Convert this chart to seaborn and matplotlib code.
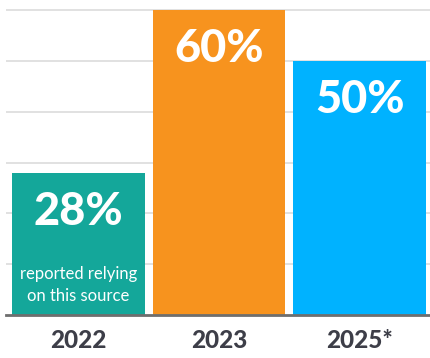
import matplotlib
matplotlib.use("Agg")
import matplotlib.pyplot as plt
import seaborn as sns
import pandas as pd

years = ["2022", "2023", "2025*"]
values = [28, 60, 50]
labels = ["28%", "60%", "50%"]
colors = ["#14A79A", "#F7931E", "#00B2FF"]
sublabel = "reported relying\non this source"

sns.set_theme(style="white")
plt.rcParams["font.family"] = ["Lato", "DejaVu Sans"]

df = pd.DataFrame({"year": years, "value": values})

fig = plt.figure(figsize=(4.3, 3.58), dpi=100)
ax = fig.add_axes([0.014, 0.120, 0.986, 0.866])

sns.barplot(data=df, x="year", y="value", hue="year", palette=colors,
            width=0.943, legend=False, ax=ax, saturation=1, zorder=3,
            linewidth=0, edgecolor="none")

ax.set_ylim(0, 61)
ax.set_xlim(-0.514, 2.5)
ax.set_yticks([10, 20, 30, 40, 50, 60])
ax.yaxis.grid(True, color="#dcdcdc", linewidth=1.2, zorder=0)
ax.set_axisbelow(True)
ax.tick_params(axis="y", length=0, labelleft=False)
ax.tick_params(axis="x", length=0, pad=10, labelsize=17.5, labelcolor="#3d3e48")
for t in ax.get_xticklabels():
    t.set_fontweight("black")
ax.set_xlabel("")
ax.set_ylabel("")
for s in ["top", "right", "left"]:
    ax.spines[s].set_visible(False)
ax.spines["bottom"].set_color("#6e6e6e")
ax.spines["bottom"].set_linewidth(2)
ax.spines["bottom"].set_zorder(5)

for i, (v, lab) in enumerate(zip(values, labels)):
    ax.annotate(lab, xy=(i, v), xytext=(0, -28), textcoords="offset points",
                ha="center", va="center", color="white", fontsize=32.5,
                fontweight="black", zorder=6)

ax.annotate(sublabel, xy=(0, 0), xytext=(0, 21.5), textcoords="offset points",
            ha="center", va="center", color="white", fontsize=12,
            linespacing=1.45, zorder=6)

fig.savefig("out.png", dpi=100)
